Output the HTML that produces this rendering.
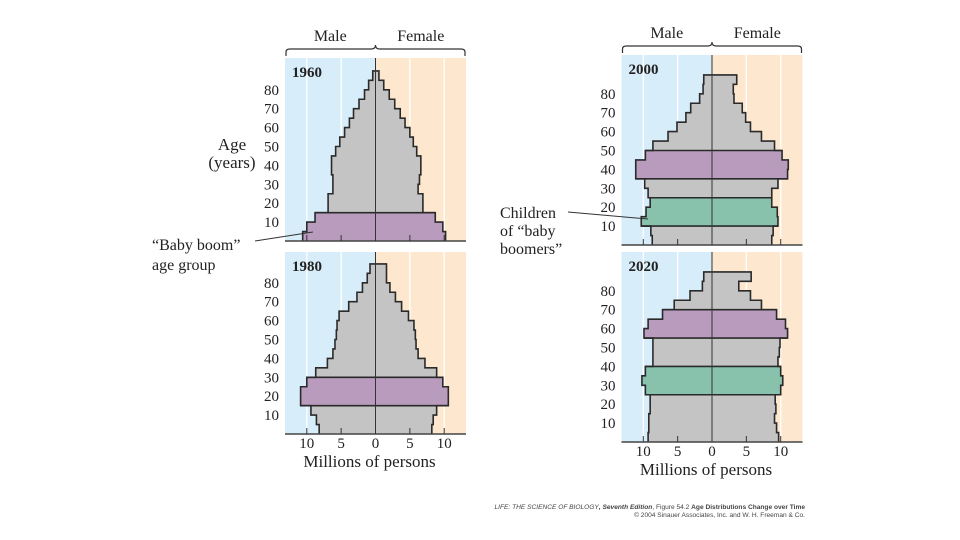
<!DOCTYPE html>
<html><head><meta charset="utf-8"><style>
html,body{margin:0;padding:0;background:#fff;width:960px;height:540px;overflow:hidden}
svg{display:block}
text{font-family:"Liberation Serif",serif;fill:#222}
.cap{font-family:"Liberation Sans",sans-serif;font-size:6.6px;fill:#444}
</style></head><body>
<svg id="chart" width="960" height="540" viewBox="0 0 960 540" xmlns="http://www.w3.org/2000/svg">
<g id="layer"></g>
<g>
<text x="232" y="150" font-size="17" text-anchor="middle">Age</text>
<text x="232" y="168" font-size="17" text-anchor="middle">(years)</text>
<text x="152" y="250" font-size="16">“Baby boom”</text>
<text x="152" y="270" font-size="16">age group</text>
<line x1="255" y1="241" x2="313" y2="232" stroke="#333" stroke-width="1"/>
<text x="500" y="218" font-size="16">Children</text>
<text x="500" y="236" font-size="16">of “baby</text>
<text x="500" y="254" font-size="16">boomers”</text>
<line x1="568" y1="212" x2="648" y2="219" stroke="#333" stroke-width="1"/>
<text class="cap" x="805" y="509" text-anchor="end"><tspan font-style="italic">LIFE: THE SCIENCE OF BIOLOGY</tspan><tspan font-weight="bold" font-style="italic">, Seventh Edition</tspan>, Figure 54.2 <tspan font-weight="bold">Age Distributions Change over Time</tspan></text>
<text class="cap" x="805" y="517" text-anchor="end">© 2004 Sinauer Associates, Inc. and W. H. Freeman &amp; Co.</text>
</g>
</svg>
<script>
// Population in millions per 5-year age band (0-4 ... 85-89)
const ageBands = [0,5,10,15,20,25,30,35,40,45,50,55,60,65,70,75,80,85];
const ageTicks = [10,20,30,40,50,60,70,80];
const xTicks = [10,5,0,5,10];
const male1960 = [10.6,10.0,8.8,6.9,6.9,6.2,6.2,6.4,6.4,5.8,5.2,4.5,3.8,3.2,2.4,1.6,1.0,0.4];
const female1960 = [10.2,9.8,8.7,6.9,6.9,6.2,6.4,6.6,6.6,6.0,5.5,5.0,4.3,3.6,2.8,2.0,1.2,0.5];
const male1980 = [8.2,8.6,9.4,10.9,10.9,10.0,8.7,7.0,6.2,5.9,5.7,5.6,5.3,3.9,2.7,1.9,1.2,0.8];
const female1980 = [8.2,8.4,8.9,10.6,10.6,9.8,8.9,7.2,6.2,5.9,5.8,5.6,4.8,3.8,2.9,2.1,1.6,1.6];
const male2000 = [8.7,8.9,10.3,9.6,9.0,9.3,9.8,11.1,11.1,9.7,8.6,6.4,5.1,3.8,3.1,1.8,1.3,1.2];
const female2000 = [8.7,8.9,9.6,9.5,8.7,8.7,9.6,11.0,11.1,10.2,9.1,7.2,5.6,4.9,4.4,3.2,3.1,3.6];
const male2020 = [9.3,9.2,9.2,9.0,9.0,9.7,10.2,9.7,8.6,8.6,8.6,9.9,9.3,7.2,5.5,3.2,1.4,1.2];
const female2020 = [9.7,9.4,9.1,9.3,9.2,10.0,10.3,10.0,9.6,9.8,9.9,11.0,10.7,9.4,7.2,5.6,3.9,5.7];
// highlighted band index ranges [start, end)
const purple1960 = [0,3];
const purple1980 = [3,6];
const purple2000 = [7,10];
const green2000 = [2,5];
const purple2020 = [11,14];
const green2020 = [5,8];

const NS='http://www.w3.org/2000/svg';
const layer=document.getElementById('layer');
function mk(tag,attrs,parent){const e=document.createElementNS(NS,tag);for(const k in attrs)e.setAttribute(k,attrs[k]);(parent||layer).appendChild(e);return e;}

function drawPanel(p){
  const g=mk('g',{});
  
  
  const sx=v=>v*6.87, sy=a=>p.y0-a*1.89;
  const L=p.cx-90.5, R=p.cx+90.5, top=p.y0-p.h;
  const mb=mk('rect',{x:L,y:top,width:p.cx-L,height:p.h,fill:'#d7edfa'},g);
  
  const fb=mk('rect',{x:p.cx,y:top,width:R-p.cx,height:p.h,fill:'#fde8cf'},g);
  
  [5,10].forEach(t=>{[-1,1].forEach(s=>{mk('line',{x1:p.cx+s*sx(t),x2:p.cx+s*sx(t),y1:top,y2:p.y0,stroke:'#fff','stroke-width':1.3},g);});});
  const col=i=>(p.purple&&i>=p.purple[0]&&i<p.purple[1])?'#b89bbd':(p.green&&i>=p.green[0]&&i<p.green[1])?'#88c2ac':'#c4c4c4';
  ageBands.forEach((a,i)=>{
    const r=mk('rect',{x:p.cx-sx(p.m[i]),y:sy(a+5)-0.6,width:sx(p.m[i])+sx(p.f[i]),height:sy(a)-sy(a+5)+1.2,fill:col(i),'shape-rendering':'crispEdges'},g);
    
    
  });
  let d='M'+(p.cx-sx(p.m[0]))+','+sy(0);
  ageBands.forEach((a,i)=>{d+=' L'+(p.cx-sx(p.m[i]))+','+sy(a)+' L'+(p.cx-sx(p.m[i]))+','+sy(a+5);});
  for(let i=ageBands.length-1;i>=0;i--){const a=ageBands[i];d+=' L'+(p.cx+sx(p.f[i]))+','+sy(a+5)+' L'+(p.cx+sx(p.f[i]))+','+sy(a);}
  const o=mk('path',{d:d,fill:'none',stroke:'#2a2a2a','stroke-width':1.6,'stroke-linejoin':'miter'},g);
  
  [p.purple,p.green].forEach(rg=>{if(!rg)return;[rg[0],rg[1]].forEach(k=>{
    if(k<=0)return;
    const w=Math.max(p.m[k-1],p.m[k]||0), wf=Math.max(p.f[k-1],p.f[k]||0);
    mk('line',{x1:p.cx-sx(w),x2:p.cx+sx(wf),y1:sy(ageBands[k]),y2:sy(ageBands[k]),stroke:'#2a2a2a','stroke-width':1.6},g);});});
  mk('line',{x1:p.cx,x2:p.cx,y1:top,y2:p.y0,stroke:'#333','stroke-width':1},g);
  const ax=mk('line',{x1:L,x2:R,y1:p.y0,y2:p.y0,stroke:'#444','stroke-width':1.5},g);
  
  [-10,-5,0,5,10].forEach((t,j)=>{
    mk('line',{x1:p.cx+sx(t),x2:p.cx+sx(t),y1:p.y0-6,y2:p.y0,stroke:'#333','stroke-width':1},g);
    if(p.xlabels){const tx=mk('text',{x:p.cx+sx(t),y:p.y0+14,'font-size':15,'text-anchor':'middle'},g);tx.textContent=xTicks[j];
      }
  });
  ageTicks.forEach(a=>{const t=mk('text',{x:L-6,y:sy(a)+5,'font-size':15,'text-anchor':'end'},g);t.textContent=a;
    });
  const yt=mk('text',{x:L+7,y:top+19,'font-size':15,'font-weight':'bold'},g);yt.textContent=p.year;
  
  if(p.xlabels){const xt=mk('text',{x:p.cx-6,y:p.y0+33,'font-size':17,'text-anchor':'middle'},g);xt.textContent='Millions of persons';
    }
  if(p.header){
    const by=top-2;
    const b=mk('path',{d:`M${L+1},${by} L${L+1},${by-4} Q${L+1},${by-7} ${L+5},${by-7} L${p.cx-4},${by-7} Q${p.cx},${by-7} ${p.cx},${by-11} Q${p.cx},${by-7} ${p.cx+4},${by-7} L${R-5},${by-7} Q${R-1},${by-7} ${R-1},${by-4} L${R-1},${by}`,fill:'none',stroke:'#333','stroke-width':1.2},g);
    
    const mt=mk('text',{x:(L+p.cx)/2,y:by-15,'font-size':16,'text-anchor':'middle'},g);mt.textContent='Male';
    
    const ft=mk('text',{x:(R+p.cx)/2,y:by-15,'font-size':16,'text-anchor':'middle'},g);ft.textContent='Female';
    
  }
}
drawPanel({year:1960,cx:375.5,y0:241,h:183,m:male1960,f:female1960,purple:purple1960,header:true});
drawPanel({year:1980,cx:375.5,y0:434,h:182,m:male1980,f:female1980,purple:purple1980,xlabels:true});
drawPanel({year:2000,cx:712,y0:245,h:190,m:male2000,f:female2000,purple:purple2000,green:green2000,header:true});
drawPanel({year:2020,cx:712,y0:442,h:190,m:male2020,f:female2020,purple:purple2020,green:green2020,xlabels:true});
</script>
</body></html>
